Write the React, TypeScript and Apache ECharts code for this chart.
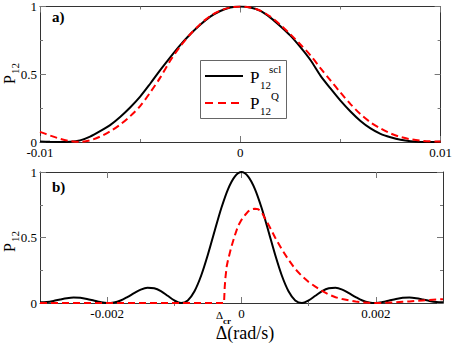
import React, { useEffect, useRef } from "react";
import * as echarts from "echarts";

// ---------- data ----------
// panel a)
const topX = [
  -0.01, -0.0095, -0.009, -0.0085, -0.008, -0.0075, -0.007, -0.0065, -0.006, -0.0055,
  -0.005, -0.0045, -0.004, -0.0035, -0.003, -0.0025, -0.002, -0.0015, -0.001, -0.0005,
  0,
  0.0005, 0.001, 0.0015, 0.002, 0.0025, 0.003, 0.0035, 0.004, 0.0045, 0.005,
  0.0055, 0.006, 0.0065, 0.007, 0.0075, 0.008, 0.0085, 0.009, 0.0095, 0.01,
];
const topScl = [
  0.003, 0.001, 0.0, 0.002, 0.012, 0.04, 0.08, 0.125, 0.185, 0.255,
  0.335, 0.43, 0.53, 0.625, 0.715, 0.795, 0.865, 0.925, 0.967, 0.992,
  1.0,
  0.992, 0.968, 0.918, 0.855, 0.785, 0.7, 0.605, 0.49, 0.395, 0.305,
  0.225, 0.155, 0.1, 0.06, 0.035, 0.016, 0.005, 0.0, 0.0, 0.002,
];
const topQ = [
  0.075, 0.048, 0.024, 0.007, 0.001, 0.012, 0.04, 0.078, 0.128, 0.19,
  0.265, 0.365, 0.475, 0.6, 0.705, 0.795, 0.87, 0.93, 0.97, 0.993,
  1.0,
  0.993, 0.97, 0.925, 0.865, 0.795, 0.72, 0.64, 0.545, 0.455, 0.365,
  0.28, 0.205, 0.145, 0.1, 0.063, 0.037, 0.02, 0.01, 0.005, 0.003,
];

// panel b)
const botX = [
  -0.003, -0.0029, -0.0028, -0.0027, -0.0026, -0.0025, -0.0024, -0.0023, -0.0022, -0.0021,
  -0.002, -0.0019, -0.0018, -0.0017, -0.0016, -0.0015, -0.0014, -0.0013, -0.0012, -0.0011,
  -0.001, -0.0009, -0.0008, -0.0007, -0.0006, -0.0005, -0.0004, -0.0003, -0.0002, -0.0001,
  0,
  0.0001, 0.0002, 0.0003, 0.0004, 0.0005, 0.0006, 0.0007, 0.0008, 0.0009, 0.001,
  0.0011, 0.0012, 0.0013, 0.0014, 0.0015, 0.0016, 0.0017, 0.0018, 0.0019, 0.002,
  0.0021, 0.0022, 0.0023, 0.0024, 0.0025, 0.0026, 0.0027, 0.0028, 0.0029, 0.003,
];
const botScl = [
  0.005, 0.008, 0.016, 0.027, 0.037, 0.042, 0.04, 0.031, 0.019, 0.007,
  0.0, 0.004, 0.019, 0.045, 0.075, 0.102, 0.116, 0.112, 0.09, 0.055,
  0.02, 0.0, 0.02, 0.09, 0.21, 0.37, 0.55, 0.725, 0.87, 0.965,
  1.0,
  0.965, 0.87, 0.725, 0.55, 0.37, 0.21, 0.09, 0.02, 0.0, 0.02,
  0.055, 0.09, 0.112, 0.116, 0.102, 0.075, 0.045, 0.019, 0.004, 0.0,
  0.007, 0.019, 0.031, 0.04, 0.042, 0.037, 0.027, 0.016, 0.008, 0.005,
];
const botQX = [
  -0.003, -0.00026, -0.00025, -0.00024, -0.00022, -0.0002, -0.00015, -0.0001, -0.00005, 0,
  0.00005, 0.0001, 0.00015, 0.0002, 0.00025, 0.0003, 0.00035, 0.0004, 0.0005, 0.0006,
  0.0007, 0.0008, 0.0009, 0.001, 0.0011, 0.0012, 0.0013, 0.0014, 0.0015, 0.0016,
  0.0017, 0.0018, 0.0019, 0.002, 0.0021, 0.0022, 0.0023, 0.0024, 0.0025, 0.0026,
  0.0027, 0.0028, 0.0029, 0.003,
];
const botQ = [
  0, 0, 0.12, 0.19, 0.28, 0.33, 0.43, 0.515, 0.59, 0.635,
  0.67, 0.7, 0.715, 0.72, 0.715, 0.695, 0.645, 0.6, 0.5, 0.41,
  0.33, 0.26, 0.205, 0.16, 0.125, 0.092, 0.065, 0.044, 0.03, 0.02,
  0.011, 0.005, 0.001, 0.0, 0.001, 0.003, 0.006, 0.009, 0.012, 0.016,
  0.02, 0.023, 0.026, 0.029,
];

const topXTicks = [-0.01, 0, 0.01];
const botXMajor = [-0.002, 0, 0.002];
const botXMinor = [-0.001, 0.001];
const yTicks = [0, 0.5, 1];

// ---------- styles ----------
const FONT = "Liberation Serif";
const FRAME = { show: true, onZero: false, lineStyle: { color: "#333", width: 1 } };
const TICK = { color: "#777", width: 1 };

const fmt = (v: number) => (Math.abs(v) < 1e-12 ? "0" : String(+v.toFixed(4)));
const zip = (xs: number[], ys: number[]) => xs.map((x, i) => [x, ys[i]]);

const labelStyle = { show: true, margin: 3, fontFamily: FONT, fontSize: 13, color: "#000", formatter: fmt };

function valueAxis(extra: any) {
  return {
    type: "value",
    axisLine: FRAME,
    splitLine: { show: false },
    minorSplitLine: { show: false },
    ...extra,
  };
}

export default function App() {
  const ref = useRef<HTMLDivElement>(null);

  useEffect(() => {
    const chart = echarts.init(ref.current!, null, { renderer: "svg" });

    const xAxis = [
      valueAxis({
        gridIndex: 0, position: "bottom", min: topXTicks[0], max: topXTicks[2], interval: 0.01,
        axisTick: { show: true, inside: true, length: 6, lineStyle: TICK },
        minorTick: { show: true, splitNumber: 2, length: 3, lineStyle: TICK },
        axisLabel: { ...labelStyle, margin: 4 },
      }),
      valueAxis({
        gridIndex: 0, position: "top", min: topXTicks[0], max: topXTicks[2], interval: 0.01,
        axisTick: { show: true, inside: true, length: 6, lineStyle: TICK },
        minorTick: { show: true, splitNumber: 2, length: 3, lineStyle: TICK },
        axisLabel: { show: false },
      }),
      valueAxis({
        gridIndex: 1, position: "bottom", min: -0.003, max: 0.003,
        axisTick: { show: true, inside: true, length: 6, lineStyle: TICK, customValues: botXMajor },
        axisLabel: { ...labelStyle, margin: 4, customValues: botXMajor },
        name: "Δ(rad/s)",
        nameLocation: "middle",
        nameGap: 21,
        nameTextStyle: { fontFamily: FONT, fontSize: 18, color: "#000", padding: [0, 0, 0, 7] },
      }),
      valueAxis({
        gridIndex: 1, position: "bottom", min: -0.003, max: 0.003,
        axisLine: { show: false },
        axisTick: { show: true, inside: true, length: 3, lineStyle: TICK, customValues: botXMinor },
        axisLabel: { show: false },
      }),
      valueAxis({
        gridIndex: 1, position: "top", min: -0.003, max: 0.003,
        axisTick: { show: true, inside: true, length: 6, lineStyle: TICK, customValues: botXMajor },
        axisLabel: { show: false },
      }),
      valueAxis({
        gridIndex: 1, position: "top", min: -0.003, max: 0.003,
        axisLine: { show: false },
        axisTick: { show: true, inside: true, length: 3, lineStyle: TICK, customValues: botXMinor },
        axisLabel: { show: false },
      }),
    ];

    const yAxisFor = (grid: number, position: string, labels: boolean) =>
      valueAxis({
        gridIndex: grid, position, min: yTicks[0], max: yTicks[2], interval: 0.5,
        axisTick: { show: true, inside: true, length: 6, lineStyle: TICK },
        minorTick: { show: true, splitNumber: 2, length: 3, lineStyle: TICK },
        axisLabel: labels ? labelStyle : { show: false },
      });

    const yAxis = [
      yAxisFor(0, "left", true),
      yAxisFor(0, "right", false),
      yAxisFor(1, "left", true),
      yAxisFor(1, "right", false),
    ];

    const black = { color: "#000", width: 2, type: "solid" };
    const red = { color: "#ff0000", width: 2, type: [7, 4] };

    const series = [
      { name: "P12 scl (a)", type: "line", xAxisIndex: 0, yAxisIndex: 0, data: zip(topX, topScl),
        showSymbol: false, smooth: 0.3, lineStyle: black, itemStyle: { color: "#000" }, z: 2 },
      { name: "P12 Q (a)", type: "line", xAxisIndex: 0, yAxisIndex: 0, data: zip(topX, topQ),
        showSymbol: false, smooth: 0.3, lineStyle: red, itemStyle: { color: "#ff0000" }, z: 3 },
      { name: "P12 scl (b)", type: "line", xAxisIndex: 2, yAxisIndex: 2, data: zip(botX, botScl),
        showSymbol: false, smooth: 0.3, lineStyle: black, itemStyle: { color: "#000" }, z: 2 },
      { name: "P12 Q (b)", type: "line", xAxisIndex: 2, yAxisIndex: 2, data: zip(botQX, botQ),
        showSymbol: false, smooth: false, lineStyle: red, itemStyle: { color: "#ff0000" }, z: 3 },
    ];

    const txt = (x: number, y: number, text: string, size: number, bold = false) => ({
      type: "text",
      x,
      y,
      silent: true,
      style: {
        text,
        font: `${bold ? "bold " : ""}${size}px "Liberation Serif", serif`,
        fontFamily: FONT,
        fontSize: size,
        fontWeight: bold ? "bold" : "normal",
        fill: "#000",
        align: "left",
        verticalAlign: "middle",
      },
    });

    const yName = (x: number, y: number) => ({
      type: "group",
      x,
      y,
      rotation: Math.PI / 2,
      children: [txt(0, 0, "P", 16), txt(10, 6, "12", 11)],
    });

    const graphic = [
      txt(52, 17, "a)", 15, true),
      txt(52, 187, "b)", 15, true),
      yName(9, 84),
      yName(9, 252),
      { type: "rect", silent: true, z: 10, shape: { x: 200.5, y: 60.5, width: 86, height: 58 },
        style: { fill: "#fff", stroke: "#666", lineWidth: 1 } },
      { type: "line", silent: true, z: 11, shape: { x1: 205, y1: 76, x2: 243, y2: 76 },
        style: { stroke: "#000", lineWidth: 2 } },
      { type: "line", silent: true, z: 11, shape: { x1: 205, y1: 103, x2: 243, y2: 103 },
        style: { stroke: "#ff0000", lineWidth: 2, lineDash: [8, 5] } },
      { ...txt(250, 77.5, "P", 17), z: 11 },
      { ...txt(260, 85, "12", 11), z: 11 },
      { ...txt(269, 69, "scl", 11), z: 11 },
      { ...txt(250, 103, "P", 17), z: 11 },
      { ...txt(260, 111, "12", 11), z: 11 },
      { ...txt(271, 96, "Q", 11), z: 11 },
      txt(216, 315, "Δ", 11),
      txt(223, 321, "cr", 9, true),
    ];

    chart.setOption({
      animation: false,
      backgroundColor: "#fff",
      textStyle: { fontFamily: FONT },
      grid: [
        { left: 40, top: 5, width: 403, height: 137, containLabel: false },
        { left: 40, top: 172, width: 403, height: 138, containLabel: false },
      ],
      xAxis,
      yAxis,
      series,
      graphic,
    });

    return () => chart.dispose();
  }, []);

  return (
    <div
      ref={ref}
      style={{ position: "absolute", left: 0, top: 0, width: 455, height: 343 }}
    />
  );
}
